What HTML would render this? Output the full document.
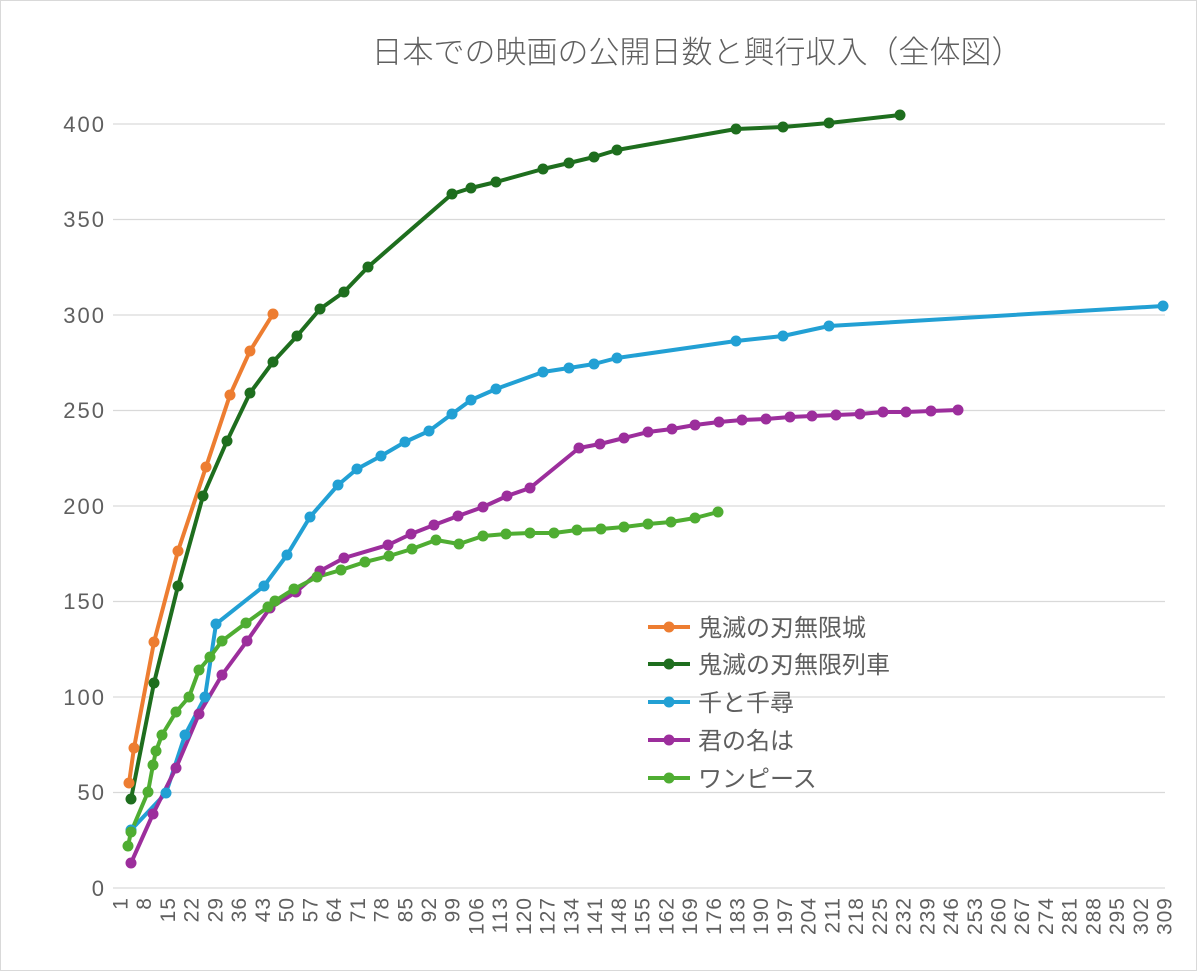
<!DOCTYPE html>
<html><head><meta charset="utf-8"><style>
body{margin:0;background:#fff}
text{font-family:"Liberation Sans","Noto Sans CJK JP",sans-serif;fill:#5f5f5f}
</style></head><body>
<svg width="1200" height="974" xmlns="http://www.w3.org/2000/svg">
<rect x="0.5" y="0.5" width="1196" height="970" fill="#fff" stroke="#d9d9d9"/>
<text x="697" y="63" font-size="31" text-anchor="middle" font-weight="300">日本での映画の公開日数と興行収入（全体図）</text>
<g stroke="#d9d9d9" stroke-width="1.3">
<line x1="113" x2="1165" y1="124" y2="124"/><line x1="113" x2="1165" y1="219.5" y2="219.5"/>
<line x1="113" x2="1165" y1="315" y2="315"/><line x1="113" x2="1165" y1="410.5" y2="410.5"/>
<line x1="113" x2="1165" y1="506" y2="506"/><line x1="113" x2="1165" y1="601.5" y2="601.5"/>
<line x1="113" x2="1165" y1="697" y2="697"/><line x1="113" x2="1165" y1="792.5" y2="792.5"/>
<line x1="113" x2="1165" y1="888" y2="888"/>
</g>
<g font-size="22" text-anchor="end" letter-spacing="2">
<text x="106" y="132">400</text><text x="106" y="227">350</text><text x="106" y="323">300</text>
<text x="106" y="418">250</text><text x="106" y="514">200</text><text x="106" y="609">150</text>
<text x="106" y="705">100</text><text x="106" y="800">50</text><text x="106" y="896">0</text>
</g>
<g id="xl" font-size="21" text-anchor="end" letter-spacing="1"></g>
<g fill="none" stroke-width="4" stroke-linejoin="round">
<polyline id="p1" stroke="#ed7d31" points="129,783 134,748 154,642 178,551 206,467 230,395 250,351 273,314"/>
<polyline id="p2" stroke="#1e6e1e" points="131,799 154,683 178,586 203,496 227,441 250,393 273,362 297,336 320,309 344,292 368,267 452,194 471,188 496,182 543,169 569,163 594,157 617,150 736,129 783,127 829,123 900,115"/>
<polyline id="p3" stroke="#22a0d4" points="131,830 166,793 185,735 205,697 216,624 264,586 287,555 310,517 338,485 357,469 381,456 405,442 429,431 452,414 471,400 496,389 543,372 569,368 594,364 617,358 736,341 783,336 829,326 1163,306"/>
<polyline id="p4" stroke="#9c2e9c" points="131,863 153,814 176,768 199,714 222,675 247,641 270,608 296,592 320,571 344,558 388,545 411,534 434,525 458,516 483,507 507,496 530,488 579,448 600,444 624,438 648,432 672,429 695,425 719,422 742,420 766,419 790,417 812,416 836,415 860,414 883,412 906,412 931,411 958,410"/>
<polyline id="p5" stroke="#4fad32" points="128,846 131,832 148,792 153,765 156,751 162,735 176,712 189,697 199,670 210,657 222,641 246,623 268,607 275,601 294,589 317,577 341,570 365,562 389,556 412,549 436,540 459,544 483,536 506,534 530,533 554,533 577,530 601,529 624,527 648,524 671,522 695,518 718,512"/>
</g>
<g id="dots"></g>
<g font-size="24" text-anchor="start">
<line x1="648" x2="690" y1="627" y2="627" stroke="#ed7d31" stroke-width="4"/><circle cx="669" cy="627" r="5.5" fill="#ed7d31"/><text x="698" y="636">鬼滅の刃無限城</text>
<line x1="648" x2="690" y1="664" y2="664" stroke="#1e6e1e" stroke-width="4"/><circle cx="669" cy="664" r="5.5" fill="#1e6e1e"/><text x="698" y="673">鬼滅の刃無限列車</text>
<line x1="648" x2="690" y1="702" y2="702" stroke="#22a0d4" stroke-width="4"/><circle cx="669" cy="702" r="5.5" fill="#22a0d4"/><text x="698" y="711">千と千尋</text>
<line x1="648" x2="690" y1="740" y2="740" stroke="#9c2e9c" stroke-width="4"/><circle cx="669" cy="740" r="5.5" fill="#9c2e9c"/><text x="698" y="749">君の名は</text>
<line x1="648" x2="690" y1="778" y2="778" stroke="#4fad32" stroke-width="4"/><circle cx="669" cy="778" r="5.5" fill="#4fad32"/><text x="698" y="787">ワンピース</text>
</g>
</svg>
<script>
var NS="http://www.w3.org/2000/svg";
var xl=document.getElementById("xl");
for(var d=1;d<=309;d+=7){var x=120+(d-1)*3.39;var t=document.createElementNS(NS,"text");
t.setAttribute("transform","translate("+(x+7.5)+",897) rotate(-90)");t.textContent=d;xl.appendChild(t);}
var dots=document.getElementById("dots");
for(var i=1;i<=5;i++){var p=document.getElementById("p"+i);var c=p.getAttribute("stroke");
p.getAttribute("points").trim().split(/\s+/).forEach(function(s){var a=s.split(",");
var e=document.createElementNS(NS,"circle");e.setAttribute("cx",a[0]);e.setAttribute("cy",a[1]);e.setAttribute("r","5.5");e.setAttribute("fill",c);dots.appendChild(e);});}
</script>
</body></html>
